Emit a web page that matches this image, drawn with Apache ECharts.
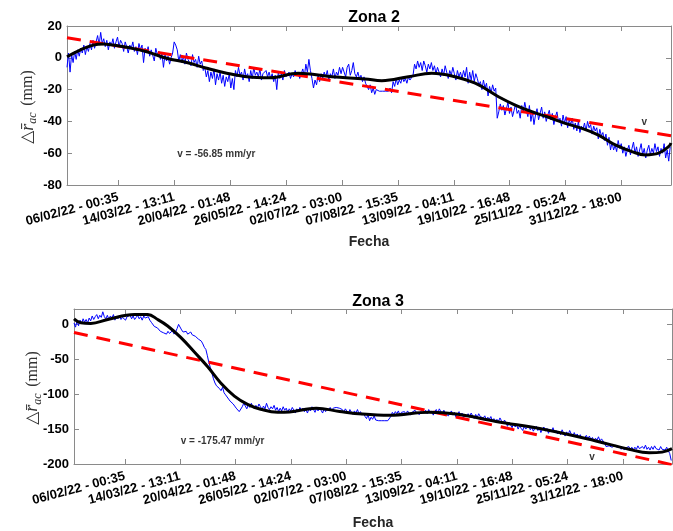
<!DOCTYPE html>
<html>
<head>
<meta charset="utf-8">
<script src="https://cdn.jsdelivr.net/npm/echarts@6/dist/echarts.min.js"></script>
<style>
  html, body { margin: 0; padding: 0; background: #ffffff; }
  #chart { width: 673px; height: 531px; }
</style>
</head>
<body>
<div id="chart"></div>
<script>
// ---- tick labels of the date axis (same for both panels) ----
const tickLabels = [
  '06/02/22 - 00:35', '14/03/22 - 13:11', '20/04/22 - 01:48', '26/05/22 - 14:24',
  '02/07/22 - 03:00', '07/08/22 - 15:35', '13/09/22 - 04:11', '19/10/22 - 16:48',
  '25/11/22 - 05:24', '31/12/22 - 18:00'
];

// time span shown, in days counted from the first tick label
const xRange = [-33.5, 361];

// raw displacement series: one value per day starting at this day
const sampleStartDay = -33.5;
const sampleStepDays = 1;

// ---- Zona 2 ----
const zona2Raw = [
  -6, 3, -9, 2, -3, 4, -1, 5, 1, 6,
  3, 8, 2, 7, 4, 9, 5, 11, 6, 10,
  14, 8, 16, 9, 12, 7, 11, 5, 10, 8,
  12, 6, 10, 13, 7, 11, 9, 4, 10, 7,
  3, 8, 6, 10, 4, 7, 2, 9, 5, 8,
  -3, 6, 3, 7, 1, 5, 4, -2, 6, 2,
  4, -1, 3, -6, 2, -2, 1, -4, 0, 3,
  10, 8, 5, -2, 2, -3, 1, -4, 3, -1,
  0, -5, 2, -3, -1, -6, 1, -4, -2, -8,
  -6, -12, -8, -15, -9, -13, -7, -17, -10, -14,
  -9, -16, -11, -18, -12, -15, -10, -19, -13, -20,
  -8, -12, -6, -11, -9, -14, -7, -12, -10, -15,
  -8, -13, -6, -11, -9, -12, -7, -14, -10, -11,
  -8, -12, -9, -13, -10, -15, -11, -20, -9, -13,
  -10, -14, -8, -12, -11, -9, -13, -10, -12, -8,
  -11, -9, -13, -10, -7, -12, -4, -9, -1, -8,
  -13, -19, -14, -17, -11, -15, -10, -13, -9, -12,
  -8, -14, -10, -12, -7, -13, -9, -11, -6, -10,
  -6, -5, -12, -6, -4, -11, -8, -3, -10, -12,
  -9, -13, -11, -15, -12, -16, -18, -20, -17, -22,
  -19, -23, -20, -21, -21, -20, -21, -22, -21, -20,
  -21, -19, -22, -15, -18, -13, -17, -14, -16, -12,
  -15, -13, -16, -12, -14, -15, -11, -4, -7, -2,
  -6, -3, -8, -2, -5, -9, -4, -7, -3, -8,
  -5, -10, -6, -9, -12, -7, -11, -5, -9, -13,
  -8, -11, -6, -10, -14, -8, -12, -9, -13, -8,
  -12, -6, -16, -9, -14, -8, -15, -10, -13, -17,
  -15, -20, -14, -19, -16, -24, -18, -22, -17, -21,
  -19, -38, -34, -29, -33, -30, -36, -32, -28, -35,
  -31, -37, -33, -29, -35, -33, -38, -30, -34, -28,
  -33, -37, -30, -40, -34, -42, -36, -32, -39, -35,
  -31, -38, -34, -40, -36, -33, -39, -35, -42, -37,
  -34, -40, -38, -43, -36, -41, -37, -44, -39, -42,
  -38, -45, -41, -46, -40, -47, -43, -45, -41, -46,
  -40, -44, -42, -48, -43, -46, -44, -51, -45, -49,
  -47, -52, -48, -55, -50, -58, -53, -58, -55, -59,
  -52, -57, -54, -60, -56, -62, -58, -55, -61, -57,
  -53, -60, -56, -62, -58, -54, -61, -57, -63, -58,
  -55, -61, -57, -60, -54, -59, -56, -62, -57, -60,
  -54, -63, -58, -65, -56
];
const zona2FitDays = [-33.5, -25, -16.3, -9.8, -3.3, 5.5, 18.6, 31.6, 44.7, 57.8, 70.8, 83.9, 99.1, 117.6,
  139.4, 161.2, 172.1, 189.5, 204.8, 217.9, 233.1, 248.3, 259.2, 270.1, 281, 291.9, 302.8, 313.6,
  324.6, 335.5, 344.2, 352.9, 359.4, 361];
const zona2Fit = [0.7, 4.9, 8, 8.7, 8, 6.6, 3.8, -0.3, -3, -6.6, -9.7, -11.9, -12.5, -9.7,
  -11.9, -13.3, -14.4, -11.9, -9.7, -11.4, -16, -24.5, -29.7, -33.9, -37.4, -41.2, -44.4, -48.6,
  -54.8, -59, -61.1, -60, -55.9, -53.6];
const zona2Trend = [12.6, -49];          // at xRange[0], xRange[1]
const zona2Velocity = -56.85;             // mm/yr

// ---- Zona 3 ----
const zona3Raw = [
  2, -4, 5, -2, 6, 1, 8, 3, 7, 2,
  9, 5, 12, 7, 11, 14, 8, 13, 10, 18,
  11, 8, 13, 7, 12, 9, 14, 6, 11, 8,
  13, 7, 10, 12, 6, 11, 9, 13, 8, 12,
  7, 10, 13, 8, 11, 6, 12, 9, 7, 11,
  6, 3, 1, -3, -1, -5, -7, -10, -8, -12,
  -11, -14, -10, -13, -12, -9, -14, -11, -6, 0,
  -2, -8, -11, -13, -10, -14, -12, -11, -15, -13,
  -17, -19, -21, -20, -24, -28, -33, -36, -45, -55,
  -62, -70, -78, -84, -88, -86, -92, -95, -90, -98,
  -101, -104, -107, -110, -108, -114, -117, -120, -122, -125,
  -123, -118, -113, -117, -121, -115, -119, -113, -118, -121,
  -116, -120, -114, -118, -122, -117, -121, -113, -119, -122,
  -118, -121, -116, -123, -119, -125, -120, -124, -118, -123,
  -120, -126, -121, -124, -119, -123, -127, -121, -125, -119,
  -123, -120, -125, -122, -127, -121, -124, -118, -122, -126,
  -120, -124, -119, -123, -127, -121, -125, -120, -123, -119,
  -124, -120, -119, -119, -119, -120, -119, -122, -126, -121,
  -124, -128, -122, -126, -129, -124, -127, -122, -128, -125,
  -130, -127, -132, -135, -129, -138, -133, -136, -131, -137,
  -137, -138, -137, -138, -137, -138, -137, -138, -136, -132,
  -126, -129, -125, -128, -124, -130, -126, -128, -125, -129,
  -124, -127, -130, -126, -128, -123, -127, -125, -129, -124,
  -121, -126, -123, -128, -122, -127, -124, -130, -125, -122,
  -127, -121, -125, -129, -123, -128, -126, -131, -127, -124,
  -130, -126, -133, -128, -125, -131, -127, -134, -129, -132,
  -128, -133, -127, -131, -135, -129, -133, -128, -132, -130,
  -134, -131, -137, -133, -136, -132, -138, -135, -140, -136,
  -139, -134, -138, -142, -137, -141, -146, -140, -144, -148,
  -142, -147, -144, -150, -145, -149, -152, -146, -150, -148,
  -145, -151, -147, -153, -149, -146, -152, -148, -155, -150,
  -147, -153, -149, -156, -151, -154, -148, -155, -152, -157,
  -153, -158, -151, -156, -160, -154, -158, -152, -157, -161,
  -155, -160, -157, -162, -158, -163, -162, -162, -159, -164,
  -160, -165, -162, -167, -163, -166, -161, -167, -164, -166,
  -170, -175, -175, -174, -175, -176, -175, -173, -176, -178,
  -175, -179, -176, -180, -177, -178, -175, -179, -176, -180,
  -176, -179, -174, -178, -180, -175, -178, -173, -179, -176,
  -180, -175, -179, -174, -178, -176, -180, -175, -179, -177,
  -180, -176, -181, -185, -195
];
const zona3FitDays = [-33.5, -29, -22.4, -11.2, 6.4, 15.2, 21.7, 28.3, 36.9, 45.9, 54.7, 63.3, 72.3, 81,
  89.6, 100.8, 108.7, 126.3, 141.7, 156.8, 174.6, 201, 218.5, 244.9, 277.8, 310.8, 332.7, 345.9, 354.5, 361];
const zona3Fit = [8, 2.3, 1.4, 7, 14, 14, 7, -2.3, -18.7, -39.7, -60.7, -84, -102.7, -114.5,
  -121.5, -126, -125.5, -120, -124.7, -128.5, -130.3, -126, -128.5, -139, -151, -167, -179, -184, -183, -178];
const zona3Trend = [-11.7, -201];
const zona3Velocity = -175.47;

// ---- helpers ----
function parseLabel(s) {
  const m = s.match(/(\d+)\/(\d+)\/(\d+) - (\d+):(\d+)/);
  return Date.UTC(2000 + +m[3], +m[2] - 1, +m[1], +m[4], +m[5]);
}
const t0 = parseLabel(tickLabels[0]);
const tickDays = tickLabels.map(s => (parseLabel(s) - t0) / 86400000);
const labelOf = v => {
  let best = 0;
  tickDays.forEach((d, i) => { if (Math.abs(d - v) < Math.abs(tickDays[best] - v)) best = i; });
  return tickLabels[best];
};
const rawPairs = arr => arr.map((v, i) => [sampleStartDay + i * sampleStepDays, v]);
const zip = (xs, ys) => xs.map((x, i) => [x, ys[i]]);

const FONT = '"Liberation Sans", Arial, Helvetica, sans-serif';
const AXIS = '#8a8a8a';

function xAxes(g, nameGap) {
  return [
    {
      type: 'value', gridIndex: g, min: xRange[0], max: xRange[1], position: 'bottom',
      axisLine: { onZero: false, lineStyle: { color: AXIS, width: 1 } },
      axisTick: { inside: true, length: 5, customValues: tickDays, lineStyle: { color: AXIS } },
      axisLabel: {
        customValues: tickDays, formatter: v => labelOf(v), rotate: 15, margin: 12,
        color: '#000', fontWeight: 'bold', fontSize: 13, fontFamily: FONT
      },
      splitLine: { show: false },
      name: 'Fecha', nameLocation: 'middle', nameGap: nameGap,
      nameTextStyle: { color: '#262626', fontWeight: 'bold', fontSize: 14, fontFamily: FONT }
    },
    {
      type: 'value', gridIndex: g, min: xRange[0], max: xRange[1], position: 'top',
      axisLine: { onZero: false, lineStyle: { color: AXIS, width: 1 } },
      axisTick: { inside: true, length: 5, customValues: tickDays, lineStyle: { color: AXIS } },
      axisLabel: { show: false },
      splitLine: { show: false }
    }
  ];
}

function yAxes(g, min, max, ticks) {
  return [
    {
      type: 'value', gridIndex: g, min: min, max: max, position: 'left',
      axisLine: { onZero: false, lineStyle: { color: AXIS, width: 1 } },
      axisTick: { inside: true, length: 5, customValues: ticks, lineStyle: { color: AXIS } },
      axisLabel: { customValues: ticks, margin: 5, color: '#000', fontWeight: 'bold', fontSize: 13, fontFamily: FONT },
      splitLine: { show: false }
    },
    {
      type: 'value', gridIndex: g, min: min, max: max, position: 'right',
      axisLine: { onZero: false, lineStyle: { color: AXIS, width: 1 } },
      axisTick: { inside: true, length: 5, customValues: ticks, lineStyle: { color: AXIS } },
      axisLabel: { show: false },
      splitLine: { show: false }
    }
  ];
}

// vertical quantity label: triangle, r-bar with "ac" subscript, then the unit
const yName = '{d|△}{r|r̄}{s|ac}  {m|(mm)}';
const yRich = {
  d: { fontFamily: '"DejaVu Sans", sans-serif', fontSize: 17, fill: '#333', lineHeight: 22 },
  r: { fontFamily: '"Liberation Serif", "DejaVu Serif", serif', fontStyle: 'italic', fontSize: 18, fill: '#333', lineHeight: 22 },
  s: { fontFamily: '"Liberation Serif", "DejaVu Serif", serif', fontStyle: 'italic', fontSize: 12, fill: '#333', lineHeight: 22, verticalAlign: 'bottom' },
  m: { fontFamily: '"Liberation Serif", "DejaVu Serif", serif', fontSize: 16, fill: '#333', lineHeight: 22 }
};
function yTitle(x, y) {
  return {
    type: 'text', x: x, y: y, rotation: Math.PI / 2, z: 10,
    style: { text: yName, rich: yRich, align: 'center', verticalAlign: 'middle' }
  };
}

function panelSeries(xi, yi, raw, fitDays, fit, trend) {
  return [
    {
      type: 'line', xAxisIndex: xi, yAxisIndex: yi, data: rawPairs(raw), showSymbol: false,
      lineStyle: { color: '#0000ff', width: 1 }, clip: true, z: 2
    },
    {
      type: 'line', xAxisIndex: xi, yAxisIndex: yi, data: zip(xRange, trend), showSymbol: false,
      lineStyle: { color: '#ff0000', width: 3, type: [14, 9] }, clip: true, z: 3
    },
    {
      type: 'line', xAxisIndex: xi, yAxisIndex: yi, data: zip(fitDays, fit), showSymbol: false,
      smooth: 0.4, lineStyle: { color: '#000000', width: 3 }, clip: true, z: 4
    }
  ];
}

function note(xi, yi, x, y, text, size) {
  return {
    type: 'scatter', xAxisIndex: xi, yAxisIndex: yi, symbolSize: 0, z: 5,
    data: [[x, y]],
    label: {
      show: true, position: 'inside', formatter: text,
      color: '#000', fontWeight: 'bold', fontSize: size, fontFamily: FONT
    }
  };
}

const velText = v => 'v = ' + v.toFixed(2) + ' mm/yr';

const chart = echarts.init(document.getElementById('chart'), null, { renderer: 'canvas' });
chart.setOption({
  animation: false,
  backgroundColor: '#ffffff',
  title: [
    { text: 'Zona 2', left: 369, top: 5, textAlign: 'center',
      textStyle: { fontFamily: FONT, fontWeight: 'bold', fontSize: 16, color: '#000' } },
    { text: 'Zona 3', left: 373, top: 289, textAlign: 'center',
      textStyle: { fontFamily: FONT, fontWeight: 'bold', fontSize: 16, color: '#000' } }
  ],
  grid: [
    { left: 67, top: 26, width: 604, height: 159 },
    { left: 74, top: 309, width: 598, height: 158 }
  ],
  xAxis: [...xAxes(0, 50), ...xAxes(1, 52)],
  yAxis: [
    ...yAxes(0, -80, 20, [-80, -60, -40, -20, 0, 20]),
    ...yAxes(1, -200, 22, [-200, -150, -100, -50, 0])
  ],
  graphic: [yTitle(28, 107), yTitle(32.5, 388)],
  series: [
    ...panelSeries(0, 0, zona2Raw, zona2FitDays, zona2Fit, zona2Trend),
    ...panelSeries(2, 2, zona3Raw, zona3FitDays, zona3Fit, zona3Trend),
    note(0, 0, 64, -60.5, velText(zona2Velocity), 10),
    note(2, 2, 64.5, -166.8, velText(zona3Velocity), 10),
    note(0, 0, 343.5, -40.4, 'v', 10),
    note(2, 2, 308.3, -190.6, 'v', 10)
  ]
});
</script>
</body>
</html>
